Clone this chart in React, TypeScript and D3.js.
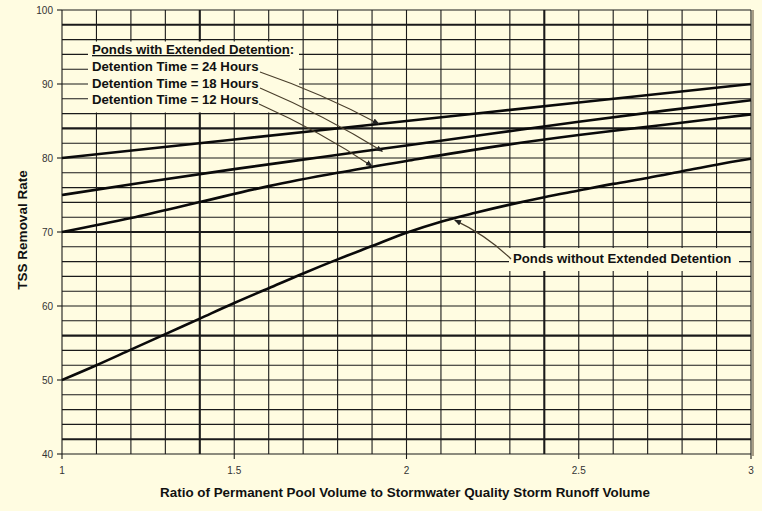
import React from "react";
import * as d3 from "d3";

const X_TICKS = [1, 1.5, 2, 2.5, 3];
const Y_TICKS = [40, 50, 60, 70, 80, 90, 100];
const X_GRID = [1, 1.1, 1.2, 1.3, 1.4, 1.5, 1.6, 1.7, 1.8, 1.9, 2, 2.1, 2.2, 2.3, 2.4, 2.5, 2.6, 2.7, 2.8, 2.9, 3];
const Y_GRID = [40, 42, 44, 46, 48, 50, 52, 54, 56, 58, 60, 62, 64, 66, 68, 70, 72, 74, 76, 78, 80, 82, 84, 86, 88, 90, 92, 94, 96, 98, 100];
const X_THICK = [1.4, 2.4];
const Y_THICK = [42, 56, 70, 84, 98];

const X_24 = [1, 1.5, 2, 2.5, 3];
const Y_24 = [80, 82.5, 85, 87.5, 90];
const X_18 = [1, 1.25, 1.5, 1.75, 2, 2.25, 2.5, 2.75, 3];
const Y_18 = [75, 76.8, 78.5, 80.1, 81.7, 83.3, 84.9, 86.4, 87.8];
const X_12 = [1, 1.2, 1.4, 1.6, 1.8, 2, 2.25, 2.5, 2.75, 3];
const Y_12 = [70, 71.9, 74.05, 76.2, 78.0, 79.6, 81.5, 83.1, 84.5, 85.9];
const X_NO = [1, 1.1, 1.2, 1.3, 1.4, 1.5, 1.6, 1.7, 1.8, 1.9, 2, 2.1, 2.2, 2.3, 2.4, 2.5, 2.6, 2.7, 2.8, 2.9, 3];
const Y_NO = [50, 52, 54.1, 56.2, 58.3, 60.4, 62.4, 64.4, 66.3, 68.1, 69.9, 71.4, 72.6, 73.7, 74.7, 75.6, 76.5, 77.3, 78.2, 79.1, 79.9];

const LEGEND_TITLE = "Ponds with Extended Detention";
const LEGEND_LINES = ["Detention Time = 24 Hours", "Detention Time = 18 Hours", "Detention Time = 12 Hours"];
const NO_LABEL = "Ponds without Extended Detention";
const X_TITLE = "Ratio of Permanent Pool Volume to Stormwater Quality Storm Runoff Volume";
const Y_TITLE = "TSS Removal Rate";

const BG = "#FFFCE1";
const FONT = "'Liberation Sans', Arial, sans-serif";

export default function App() {
  const W = 762, H = 511;
  const x = d3.scaleLinear().domain([1, 3]).range([62, 751]);
  const y = d3.scaleLinear().domain([40, 100]).range([454, 10]);
  const line = d3.line<[number, number]>().x(d => x(d[0])).y(d => y(d[1])).curve(d3.curveMonotoneX);
  const mk = (xs: number[], ys: number[]) => line(xs.map((v, i) => [v, ys[i]] as [number, number])) || "";
  const series = [mk(X_24, Y_24), mk(X_18, Y_18), mk(X_12, Y_12), mk(X_NO, Y_NO)];

  const targets = [
    { from: [260, 72], to: [x(1.92), y(84.6)] },
    { from: [260, 88], to: [x(1.93), y(80.9)] },
    { from: [259, 104], to: [x(1.9), y(78.9)] },
  ];
  const noTarget = { from: [511, 259], to: [x(2.14), y(71.6)] };
  const arrowPath = (f: number[], t: number[]) => {
    const cx = (f[0] + t[0]) / 2 + 4;
    const cy = (f[1] + t[1]) / 2 - 4;
    return `M${f[0]},${f[1]} Q${cx},${cy} ${t[0]},${t[1]}`;
  };
  const ARROW_COLOR = "#4a3f2c";

  return (
    <svg width={W} height={H} style={{ position: "fixed", left: 0, top: 0, background: BG }} fontFamily={FONT}>
      <defs>
        <marker id="ah" viewBox="0 0 10 10" refX="9" refY="5" markerWidth="7" markerHeight="7" orient="auto" markerUnits="userSpaceOnUse">
          <path d="M0,1 L10,5 L0,9 z" fill="#222" />
        </marker>
      </defs>
      <rect x={0} y={0} width={W} height={H} fill={BG} />
      {Y_GRID.map(v => (
        <line key={"h" + v} x1={x(1)} x2={x(3)} y1={y(v)} y2={y(v)} stroke="#1a1a1a"
          strokeWidth={Y_THICK.includes(v) ? 2.1 : 1.1} />
      ))}
      {X_GRID.map(v => (
        <line key={"v" + v} x1={x(v)} x2={x(v)} y1={y(40)} y2={y(100)} stroke="#1a1a1a"
          strokeWidth={X_THICK.some(t => Math.abs(t - v) < 1e-6) ? 2.1 : 1.1} />
      ))}
      <line x1={x(3) + 2} x2={x(3) + 2} y1={y(100)} y2={y(40) + 2} stroke="#A89E86" strokeWidth={2} />
      {Y_TICKS.map(v => (
        <g key={"yt" + v}>
          <line x1={x(1) - 5} x2={x(1)} y1={y(v)} y2={y(v)} stroke="#1a1a1a" strokeWidth={1.1} />
          <text x={53} y={y(v)} dy="0.35em" textAnchor="end" fontSize={10} fill="#333">{v}</text>
        </g>
      ))}
      {X_TICKS.map(v => (
        <g key={"xt" + v}>
          <line x1={x(v)} x2={x(v)} y1={y(40)} y2={y(40) + 5} stroke="#1a1a1a" strokeWidth={1.1} />
          <text x={x(v)} y={474} textAnchor="middle" fontSize={10} fill="#333">{v}</text>
        </g>
      ))}
      <rect x={88} y={41.5} width={211} height={71} fill={BG} />
      <rect x={509} y={248} width={230} height={23} fill={BG} />
      {series.map((d, i) => (
        <path key={"s" + i} d={d} fill="none" stroke="#0a0a0a" strokeWidth={2.6} />
      ))}
      <text x={92} y={54} fontSize={13.2} fontWeight="bold" fill="#111">
        <tspan textDecoration="underline">{LEGEND_TITLE}</tspan>:
      </text>
      {LEGEND_LINES.map((t, i) => (
        <text key={"l" + i} x={92} y={71 + i * 16.5} fontSize={13.2} fontWeight="bold" fill="#111">{t}</text>
      ))}
      <text x={513} y={263} fontSize={13.2} fontWeight="bold" fill="#111">{NO_LABEL}</text>
      {targets.map((a, i) => (
        <path key={"a" + i} d={arrowPath(a.from, a.to)} fill="none" stroke={ARROW_COLOR} strokeWidth={1.2} markerEnd="url(#ah)" />
      ))}
      <path d={arrowPath(noTarget.from, noTarget.to)} fill="none" stroke={ARROW_COLOR} strokeWidth={1.2} markerEnd="url(#ah)" />
      <text x={405} y={497} textAnchor="middle" fontSize={13.4} fontWeight="bold" fill="#111">{X_TITLE}</text>
      <text transform="translate(27,230) rotate(-90)" textAnchor="middle" fontSize={13.5} fontWeight="bold" fill="#111">{Y_TITLE}</text>
    </svg>
  );
}
